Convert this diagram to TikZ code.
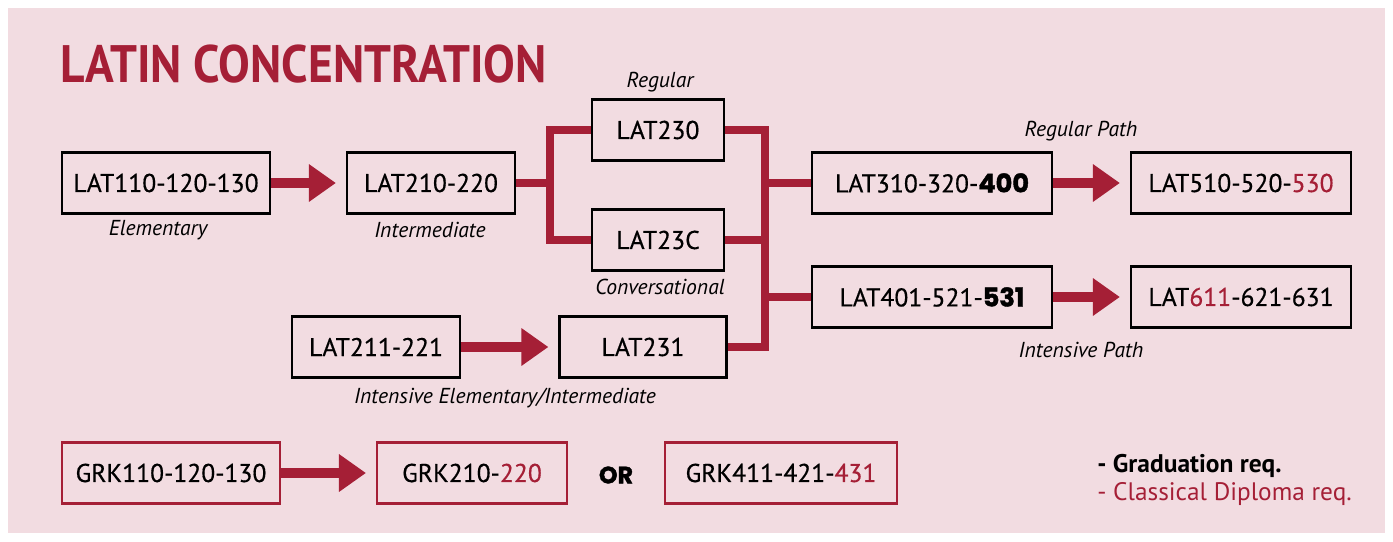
\documentclass[tikz,border=0pt]{standalone}
\usepackage{fontspec}
\setmainfont{PT Sans}
\newfontfamily\titlefont{PT Sans}[FakeStretch=0.9]
\newfontfamily\boxfont{PT Sans}[FakeBold=0.5]
\newfontfamily\heavyfont{Poppins}[FakeBold=1.6]
\usetikzlibrary{arrows.meta, positioning}
\definecolor{latred}{HTML}{A51F36}
\definecolor{bgpink}{HTML}{F2DCE1}
\newcommand{\gradreq}[1]{{\heavyfont\bfseries #1}}
\newcommand{\diplreq}[1]{\textcolor{latred}{#1}}
\tikzset{
  course/.style={
    rectangle, draw=black, line width=1.3pt,
    minimum height=1.22cm, inner sep=2pt,
    font=\boxfont\fontsize{14.6}{18}\selectfont,
  },
  greek/.style={course, draw=latred, line width=1.2pt},
  tag/.style={font=\fontsize{12.3}{14}\selectfont\itshape},
  flow/.style={
    -{Triangle[length=0.54cm, width=0.72cm]}, line width=0.2cm,
    draw=latred, shorten >=0.2cm,
  },
  branch/.style={line width=0.16cm, draw=latred},
}
\begin{document}
\begin{tikzpicture}[x=0.02cm, y=-0.02cm]

  \useasboundingbox[fill=white] (0,0) rectangle (1393,541);
  \fill[bgpink] (8,8) rectangle (1385,533);

  \node[anchor=base west, inner sep=0, text=latred,
        font=\titlefont\bfseries\fontsize{30}{34}\selectfont] (title) at (60,82)
    {LATIN CONCENTRATION};

  % regular sequence
  \node[course, minimum width=4.16cm] (lat110) at (166,183) {LAT110-120-130};
  \node[course, minimum width=3.36cm] (lat210) at (431,183) {LAT210-220};
  \node[course, minimum width=2.64cm] (lat230) at (658,130) {LAT230};
  \node[course, minimum width=2.64cm] (lat23c) at (658,240) {LAT23C};
  \node[course, minimum width=3.36cm] (lat211) at (376,347) {LAT211-221};
  \node[course, minimum width=3.34cm] (lat231) at (643,347) {LAT231};
  \node[course, minimum width=4.8cm] (lat310) at (932,183) {LAT310-320-\gradreq{400}};
  \node[course, minimum width=4.8cm] (lat401) at (932,297) {LAT401-521-\gradreq{531}};
  \node[course, minimum width=4.4cm] (lat510) at (1241,183) {LAT510-520-\diplreq{530}};
  \node[course, minimum width=4.4cm] (lat611) at (1241,297) {LAT\diplreq{611}-621-631};

  \node[tag] (elem) at (158,230) {Elementary};
  \node[tag] (inter) at (430,230) {Intermediate};
  \node[tag] (reg) at (660,82) {Regular};
  \node[tag] (conv) at (660,287) {Conversational};
  \node[tag] (intel) at (505,398) {Intensive Elementary/Intermediate};
  \node[tag] (regpath) at (1081,131) {Regular Path};
  \node[tag] (intpath) at (1081,350) {Intensive Path};

  \coordinate (fork) at (550,183);
  \coordinate (merge) at (765,240);

  \draw[flow] (lat110) -- (lat210);
  \draw[branch] (lat210.east) -- (fork);
  \draw[branch] (lat230.west) -| (fork) |- (lat23c.west);
  \draw[flow] (lat211) -- (lat231);
  \draw[branch] (lat230.east) -| (merge) |- (lat231.east);
  \draw[branch] (lat23c.east) -- (merge);
  \draw[branch] (merge |- lat310.west) -- (lat310.west);
  \draw[branch] (merge |- lat401.west) -- (lat401.west);
  \draw[flow] (lat310) -- (lat510);
  \draw[flow] (lat401) -- (lat611);

  % greek
  \node[greek, minimum width=4.36cm] (grk110) at (171,473) {GRK110-120-130};
  \node[greek, minimum width=3.8cm] (grk210) at (472,473) {GRK210-\diplreq{220}};
  \node[font=\heavyfont\bfseries\fontsize{13.5}{15}\selectfont] (or) at (616,475) {OR};
  \node[greek, minimum width=4.64cm] (grk411) at (781,473) {GRK411-421-\diplreq{431}};
  \draw[flow] (grk110) -- (grk210);

  % legend
  \node[anchor=base west, inner sep=0, font=\bfseries\fontsize{14.5}{16}\selectfont]
    (keygrad) at (1097,472) {- Graduation req.};
  \node[anchor=base west, inner sep=0, text=latred, font=\fontsize{14.4}{16}\selectfont]
    (keydipl) at (1097,500) {- Classical Diploma req.};

\end{tikzpicture}
\end{document}
